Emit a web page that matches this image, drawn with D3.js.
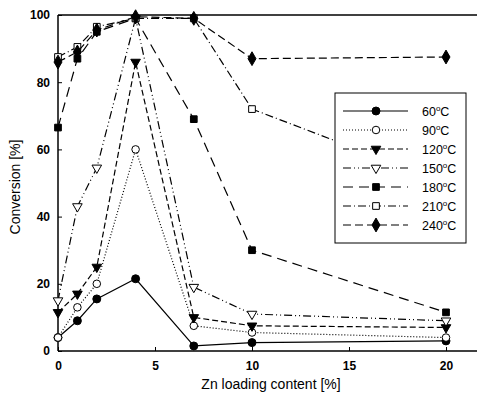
<!DOCTYPE html>
<head>
  <meta charset="UTF-8">
  <title>Conversion vs Zn loading</title>
  <script src="https://d3js.org/d3.v7.min.js"></script>
  <style>
    body { margin: 0; background: #fff; }
    text { font-family: "Liberation Sans", Arial, sans-serif; fill: #000; }
  </style>
</head>
<body>
<svg id="mainplot"></svg>
<script>
// data
const zn = [0, 1, 2, 4, 7, 10, 20];
const temps = ["60", "90", "120", "150", "180", "210", "240"];
const c60  = [4, 9, 15.5, 21.5, 1.5, 2.5, 3];
const c90  = [4, 13, 20, 60, 7.5, 5.5, 4];
const c120 = [11.5, 17, 25, 86, 10, 7.5, 7];
const c150 = [15, 43, 54.5, 99, 19, 11, 9];
const c180 = [66.5, 87, 95, 99, 69, 30, 11.5];
const c210 = [87.5, 90.5, 96.5, 99, 99, 72, 50];
const c240 = [86, 89, 95.5, 99.5, 99, 87, 87.5];
const xTicks = [0, 5, 10, 15, 20];
const yTicks = [0, 20, 40, 60, 80, 100];

const series = [c60, c90, c120, c150, c180, c210, c240];
const dashes = ["none", "1,2", "6,3", "8,3,1,3,1,3", "10,6", "8,3,1,3", "8,4"];
const marks = [
  {sym: d3.symbolCircle, fill: "#000", size: 50},
  {sym: d3.symbolCircle, fill: "#fff", size: 45},
  {sym: d3.symbolTriangle, fill: "#000", size: 40, flip: true},
  {sym: d3.symbolTriangle, fill: "#fff", size: 40, flip: true},
  {sym: d3.symbolSquare, fill: "#000", size: 45},
  {sym: d3.symbolSquare, fill: "#fff", size: 45},
  {sym: d3.symbolDiamond, fill: "#000", size: 55}
];

const width = 477, height = 401;
const svg = d3.select("#mainplot").attr("width", width).attr("height", height);

const x = d3.scaleLinear().domain([0, 20]).range([58, 446]);
const y = d3.scaleLinear().domain([0, 100]).range([351, 15]);

// frame: left, bottom, top (no right edge visible)
svg.append("line").attr("x1", 58).attr("x2", 477).attr("y1", 351).attr("y2", 351).attr("stroke", "#000").attr("stroke-width", 1.5);
svg.append("line").attr("x1", 58).attr("x2", 477).attr("y1", 15).attr("y2", 15).attr("stroke", "#000").attr("stroke-width", 1.5);
svg.append("line").attr("x1", 58).attr("x2", 58).attr("y1", 15).attr("y2", 351).attr("stroke", "#000").attr("stroke-width", 1.5);

const xAxis = svg.append("g").attr("transform", "translate(0,351)")
  .call(d3.axisBottom(x).tickValues(xTicks).tickSize(-4).tickPadding(10));
const yAxis = svg.append("g").attr("transform", "translate(58,0)")
  .call(d3.axisLeft(y).tickValues(yTicks).tickSize(-4).tickPadding(8));
[xAxis, yAxis].forEach(a => {
  a.select(".domain").remove();
  a.selectAll("text").style("font-family", "Liberation Sans, Arial, sans-serif")
    .style("font-size", "12px").style("font-weight", "bold").attr("fill", "#000");
});

const line = d3.line().x((d, i) => x(zn[i])).y(d => y(d));

function marker(g, m) {
  g.append("path")
    .attr("d", d3.symbol().type(m.sym).size(m.size)())
    .attr("transform", m.flip ? "rotate(180)" : null)
    .attr("fill", m.fill).attr("stroke", "#000").attr("stroke-width", 1);
}

series.forEach((s, k) => {
  svg.append("path").datum(s).attr("d", line)
    .attr("fill", "none").attr("stroke", "#000").attr("stroke-width", 1.2)
    .attr("stroke-dasharray", dashes[k]);
  s.forEach((v, i) => {
    const g = svg.append("g").attr("transform", `translate(${x(zn[i])},${y(v)})`);
    marker(g, marks[k]);
  });
});

// legend
const leg = svg.append("g");
leg.append("rect").attr("x", 335).attr("y", 93).attr("width", 131).attr("height", 150)
  .attr("fill", "#fff").attr("stroke", "#000").attr("stroke-width", 1);
temps.forEach((t, k) => {
  const ly = 111 + k * 19;
  leg.append("line").attr("x1", 343).attr("x2", 408).attr("y1", ly).attr("y2", ly)
    .attr("stroke", "#000").attr("stroke-width", 1.2).attr("stroke-dasharray", dashes[k]);
  marker(leg.append("g").attr("transform", `translate(376,${ly})`), marks[k]);
  const tx = leg.append("text").attr("x", 422).attr("y", ly + 4.5)
    .style("font-size", "12.5px");
  tx.append("tspan").text(t);
  tx.append("tspan").attr("dy", -5).style("font-size", "8px").text("o");
  tx.append("tspan").attr("dy", 5).text("C");
});

// axis titles
svg.append("text").attr("x", 271).attr("y", 389).attr("text-anchor", "middle")
  .style("font-size", "14px").text("Zn loading content [%]");
svg.append("text").attr("transform", "translate(20,187) rotate(-90)").attr("text-anchor", "middle")
  .style("font-size", "14px").text("Conversion [%]");
</script>
</body>
